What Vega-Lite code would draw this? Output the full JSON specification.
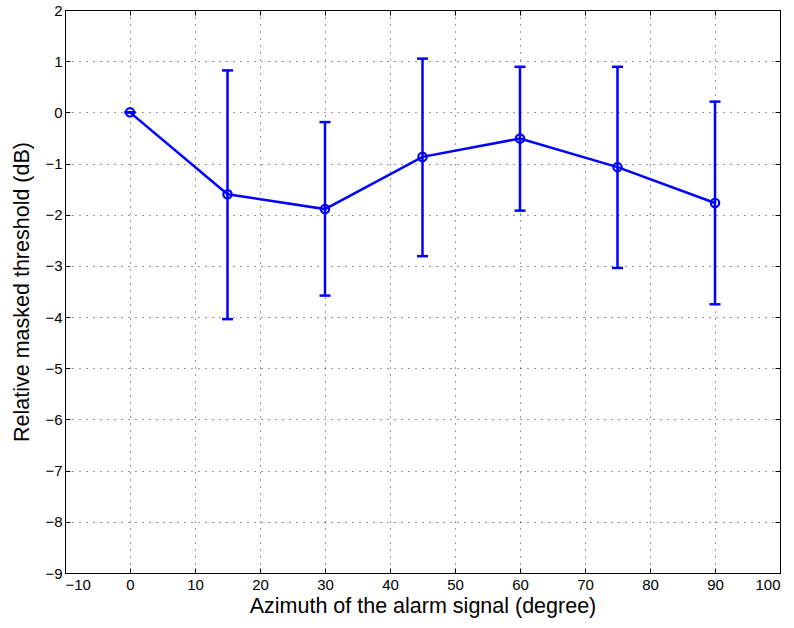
{
  "$schema": "https://vega.github.io/schema/vega-lite/v6.json",
  "width": 715,
  "height": 563,
  "autosize": {"type": "none"},
  "padding": {"left": 65, "top": 10, "right": 14, "bottom": 55},
  "background": "white",
  "config": {
    "font": "Liberation Sans",
    "view": {"stroke": "black", "strokeWidth": 1},
    "axis": {
      "labelFont": "Liberation Sans",
      "titleFont": "Liberation Sans",
      "labelFontSize": 15,
      "titleFontSize": 21.5,
      "titleFontWeight": "normal",
      "labelColor": "black",
      "titleColor": "black",
      "domainColor": "black",
      "tickColor": "black",
      "tickSize": -5,
      "gridColor": "black",
      "gridDash": [1, 6],
      "gridOpacity": 0.8
    }
  },
  "data": {
    "values": [
      {"az": 0, "mean": 0.0, "lo": 0.0, "hi": 0.0},
      {"az": 15, "mean": -1.60, "lo": -4.04, "hi": 0.82},
      {"az": 30, "mean": -1.89, "lo": -3.58, "hi": -0.19},
      {"az": 45, "mean": -0.87, "lo": -2.81, "hi": 1.05},
      {"az": 60, "mean": -0.51, "lo": -1.92, "hi": 0.89},
      {"az": 75, "mean": -1.07, "lo": -3.04, "hi": 0.89},
      {"az": 90, "mean": -1.77, "lo": -3.75, "hi": 0.21}
    ]
  },
  "layer": [
    {
      "mark": {"type": "rule", "color": "#0000ff", "strokeWidth": 2.5},
      "encoding": {
        "x": {
          "field": "az", "type": "quantitative",
          "scale": {"domain": [-10, 100], "nice": false, "zero": false},
          "axis": {"values": [-10, 0, 10, 20, 30, 40, 50, 60, 70, 80, 90, 100], "title": "Azimuth of the alarm signal (degree)", "labelPadding": 9, "titlePadding": 3, "grid": true}
        },
        "y": {"field": "lo", "type": "quantitative",
          "scale": {"domain": [-9, 2], "nice": false, "zero": false},
          "axis": {"values": [-9, -8, -7, -6, -5, -4, -3, -2, -1, 0, 1, 2], "title": "Relative masked threshold (dB)", "labelPadding": 8, "titlePadding": 11, "grid": true}},
        "y2": {"field": "hi"}
      }
    },
    {
      "mark": {"type": "tick", "orient": "horizontal", "color": "#0000ff", "size": 11, "thickness": 2.5, "opacity": 1},
      "encoding": {
        "x": {"field": "az", "type": "quantitative", "axis": null},
        "y": {"field": "lo", "type": "quantitative", "axis": null}
      }
    },
    {
      "mark": {"type": "tick", "orient": "horizontal", "color": "#0000ff", "size": 11, "thickness": 2.5, "opacity": 1},
      "encoding": {
        "x": {"field": "az", "type": "quantitative", "axis": null},
        "y": {"field": "hi", "type": "quantitative", "axis": null}
      }
    },
    {
      "mark": {"type": "line", "color": "#0000ff", "strokeWidth": 2.5},
      "encoding": {
        "x": {"field": "az", "type": "quantitative", "axis": null},
        "y": {"field": "mean", "type": "quantitative", "axis": null}
      }
    },
    {
      "mark": {"type": "point", "shape": "circle", "filled": false, "color": "#0000ff", "strokeWidth": 2.2, "size": 70, "opacity": 1},
      "encoding": {
        "x": {"field": "az", "type": "quantitative", "axis": null},
        "y": {"field": "mean", "type": "quantitative", "axis": null}
      }
    },
    {
      "mark": {"type": "point", "opacity": 0},
      "encoding": {
        "x": {"field": "az", "type": "quantitative", "axis": {"orient": "top", "values": [-10, 0, 10, 20, 30, 40, 50, 60, 70, 80, 90, 100], "labels": false, "title": null, "grid": false, "domain": false}},
        "y": {"field": "mean", "type": "quantitative", "axis": {"orient": "right", "values": [-9, -8, -7, -6, -5, -4, -3, -2, -1, 0, 1, 2], "labels": false, "title": null, "grid": false, "domain": false}}
      }
    }
  ],
  "resolve": {"axis": {"x": "independent", "y": "independent"}}
}
